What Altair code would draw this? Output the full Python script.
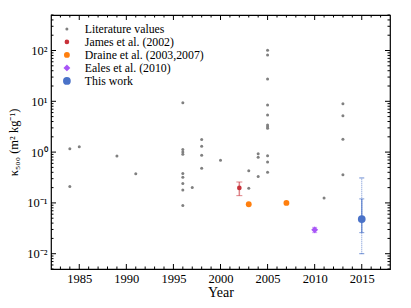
import altair as alt
import pandas as pd

# ---- data ----
lit_years = [1984, 1984, 1985, 1989, 1991,
             1996, 1996, 1996, 1996, 1996, 1996, 1996, 1996, 1996,
             1997, 1998, 1998, 1998, 1998, 2000, 2003, 2003,
             2004, 2004, 2004,
             2005, 2005, 2005, 2005, 2005, 2005, 2005, 2005, 2005, 2005, 2005,
             2011, 2013, 2013, 2013, 2013]
lit_values = [1.16, 0.21, 1.27, 0.84, 0.376,
              9.4, 1.13, 1.01, 0.91, 0.38, 0.32, 0.24, 0.18, 0.089,
              0.20, 1.78, 1.31, 0.87, 0.48, 0.69, 0.43, 0.195,
              0.93, 0.79, 0.33,
              101, 82, 27.5, 8.5, 5.4, 3.4, 3.14, 2.96, 0.85, 0.64, 0.40,
              0.125, 9.0, 5.2, 1.8, 0.36]

series_labels = ["Literature values", "James et al. (2002)", "Draine et al. (2003,2007)",
                 "Eales et al. (2010)", "This work"]
series_colors = ["#808080", "#c8323a", "#ff7f0e", "#a855f7", "#4a72c8"]
series_shapes = ["circle", "circle", "circle", "diamond", "circle"]
series_sizes = [9, 60, 60, 55, 65]

james_year = [2002]
james_value = [0.197]
james_lo = [0.139]
james_hi = [0.258]

draine_years = [2003, 2007]
draine_values = [0.094, 0.100]

eales_year = [2010]
eales_value = [0.0295]
eales_lo = [0.026]
eales_hi = [0.033]

this_year = [2015]
this_value = [0.048]
this_lo = [0.026]
this_hi = [0.12]
this_lo_wide = [0.010]
this_hi_wide = [0.31]

x_major = [1985, 1990, 1995, 2000, 2005, 2010, 2015]
x_minor = list(range(1983, 2018))
y_major = [0.01, 0.1, 1, 10, 100]
y_minor = [m * 10 ** k for k in range(-3, 3) for m in range(2, 10)]

X_DOMAIN = [1982, 2018]
Y_DOMAIN = [0.005, 500]
W, H = 339, 254
FONT = "Liberation Serif"

# ---- tables ----
rows = []
for yr, v in zip(lit_years, lit_values):
    rows.append({"year": yr, "value": v, "series": series_labels[0]})
for yr, v in zip(james_year, james_value):
    rows.append({"year": yr, "value": v, "series": series_labels[1]})
for yr, v in zip(draine_years, draine_values):
    rows.append({"year": yr, "value": v, "series": series_labels[2]})
for yr, v in zip(eales_year, eales_value):
    rows.append({"year": yr, "value": v, "series": series_labels[3]})
for yr, v in zip(this_year, this_value):
    rows.append({"year": yr, "value": v, "series": series_labels[4]})
pts = pd.DataFrame(rows)

xs = alt.Scale(domain=X_DOMAIN, nice=False, zero=False)
ys = alt.Scale(type="log", domain=Y_DOMAIN, nice=False)

label_expr = ("datum.value == 100 ? '10²' : datum.value == 10 ? '10¹' : "
              "datum.value == 1 ? '10⁰' : datum.value == 0.1 ? '10⁻¹' : '10⁻²'")

X_AXIS = alt.Axis(values=x_major, format="d", ticks=False, domain=False, grid=False,
                  title="Year", labelPadding=3, titlePadding=1,
                  labelFontSize=12.5, titleFontSize=14)
Y_AXIS = alt.Axis(values=y_major, labelExpr=label_expr, ticks=False, domain=False,
                  grid=False, title="κ₅₀₀ (m² kg⁻¹)", labelPadding=4,
                  titlePadding=6, labelFontSize=12.5, titleFontSize=12.5)


def X(field):
    return alt.X(field, scale=xs, axis=X_AXIS)


def Y(field):
    return alt.Y(field, scale=ys, axis=Y_AXIS)


LEG = alt.Legend(title=None, orient="none", legendX=10, legendY=8)

points = alt.Chart(pts).mark_point(filled=True, opacity=1, strokeWidth=0).encode(
    x=X("year:Q"),
    y=Y("value:Q"),
    color=alt.Color("series:N", scale=alt.Scale(domain=series_labels, range=series_colors),
                    legend=LEG),
    shape=alt.Shape("series:N", scale=alt.Scale(domain=series_labels, range=series_shapes),
                    legend=LEG),
    size=alt.Size("series:N", scale=alt.Scale(domain=series_labels, range=series_sizes),
                  legend=LEG),
)


def errbar(years, lo, hi, color, opacity=1.0, dash=None, width=1.0, cap=6):
    df = pd.DataFrame({"year": years, "lo": lo, "hi": hi})
    kw = {"color": color, "opacity": opacity, "strokeWidth": width}
    if dash:
        kw["strokeDash"] = dash
    rule = alt.Chart(df).mark_rule(**kw).encode(
        x=X("year:Q"), y=Y("lo:Q"), y2="hi:Q",
    )
    caps_df = pd.DataFrame({"year": years * 2, "v": lo + hi})
    caps = alt.Chart(caps_df).mark_tick(color=color, opacity=opacity, thickness=1,
                                        size=cap, orient="horizontal").encode(
        x=X("year:Q"), y=Y("v:Q"),
    )
    return rule + caps


eb_james = errbar(james_year, james_lo, james_hi, "#c8323a", opacity=0.6, width=1.5)
eb_eales = errbar(eales_year, eales_lo, eales_hi, "#a855f7", opacity=0.6, width=1.5, cap=5)
eb_this_wide = errbar(this_year, this_lo_wide, this_hi_wide, "#4a72c8", opacity=0.8,
                      dash=[1, 1], width=1.0, cap=5)
eb_this = errbar(this_year, this_lo, this_hi, "#4a72c8", opacity=0.7, width=1.5, cap=5)


# ---- inward ticks ----
def yticks(vals, length):
    df = pd.DataFrame({"v": [v for v in vals if Y_DOMAIN[0] <= v <= Y_DOMAIN[1]]})
    left = alt.Chart(df).mark_rule(color="black", strokeWidth=1).encode(
        y=Y("v:Q"), x=alt.value(0), x2=alt.value(length))
    right = alt.Chart(df).mark_rule(color="black", strokeWidth=1).encode(
        y=Y("v:Q"), x=alt.value(W), x2=alt.value(W - length))
    return left + right


def xticks(vals, length):
    df = pd.DataFrame({"v": [v for v in vals if X_DOMAIN[0] <= v <= X_DOMAIN[1]]})
    bottom = alt.Chart(df).mark_rule(color="black", strokeWidth=1).encode(
        x=X("v:Q"), y=alt.value(H), y2=alt.value(H - length))
    top = alt.Chart(df).mark_rule(color="black", strokeWidth=1).encode(
        x=X("v:Q"), y=alt.value(0), y2=alt.value(length))
    return bottom + top


ticks = (yticks(y_major, 5) + yticks(y_minor, 2.5) +
         xticks(x_major, 5) + xticks([v for v in x_minor if v not in x_major], 2.5))

chart = alt.layer(ticks, eb_this_wide, eb_this, eb_james, eb_eales, points).properties(
    width=W, height=H,
    autosize=alt.AutoSizeParams(type="none"),
    padding={"left": 43, "top": 7, "right": 12, "bottom": 30},
).configure_view(
    stroke="black", strokeWidth=1.2
).configure_axis(
    labelFont=FONT, titleFont=FONT, labelColor="black", titleColor="black",
    titleFontWeight="normal"
).configure_legend(
    labelFont=FONT, labelFontSize=11.8, labelColor="black", padding=0, rowPadding=0,
    labelOffset=12, symbolStrokeWidth=0, symbolOpacity=1
)

chart.save("out.html", embed_options={"renderer": "svg", "actions": False})
